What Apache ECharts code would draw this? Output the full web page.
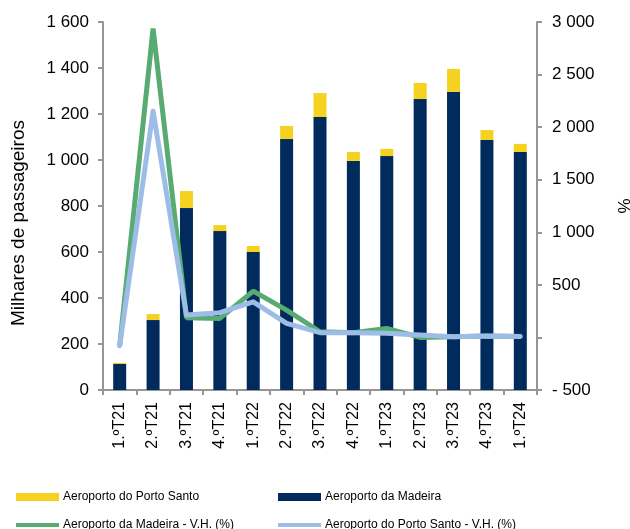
<!DOCTYPE html>
<html>
<head>
<meta charset="utf-8">
<script src="https://cdn.jsdelivr.net/npm/echarts@6/dist/echarts.min.js"></script>
<style>
  html, body { margin: 0; padding: 0; background: #fff; }
  #chart { width: 630px; height: 529px; }
</style>
</head>
<body>
<div id="chart"></div>
<script>
// dados
var categorias = ['1.ºT21', '2.ºT21', '3.ºT21', '4.ºT21', '1.ºT22', '2.ºT22', '3.ºT22',
    '4.ºT22', '1.ºT23', '2.ºT23', '3.ºT23', '4.ºT23', '1.ºT24'];
var madeira = [113, 304, 791, 691, 600, 1091, 1187, 996, 1017, 1265, 1296, 1087, 1035];
var portoSanto = [5, 26, 74, 26, 26, 57, 104, 39, 31, 70, 100, 43, 35];
var madeiraVH = [-79, 2937, 187, 181, 441, 260, 54, 45, 86, 0, 7, 13, 10];
var portoSantoVH = [-79, 2151, 213, 235, 339, 134, 45, 45, 39, 23, 7, 13, 10];

var cinza = '#969696';
var fonte = 'Liberation Sans, Arial, sans-serif';

function milhares(v) {
    return String(v).replace(/\B(?=(\d{3})+(?!\d))/g, ' ');
}

var myChart = echarts.init(document.getElementById('chart'));

// uma legenda por item, para controlar a posição
function legenda(nome, left, top, h) {
    return {
        data: [nome],
        left: left,
        top: top,
        itemWidth: 43,
        itemHeight: h,
        itemGap: 0,
        icon: 'rect',
        textStyle: { fontFamily: fonte, fontSize: 12, color: '#000', padding: [0, 0, 0, -1] }
    };
}

var option = {
    animation: false,
    textStyle: { fontFamily: fonte },
    grid: { left: 103, right: 93, top: 22, bottom: 139, containLabel: false, outerBoundsMode: 'none' },
    legend: [
        legenda('Aeroporto do Porto Santo', 11, 486, 8),
        legenda('Aeroporto da Madeira', 273, 486, 8),
        legenda('Aeroporto da Madeira - V.H. (%)', 11, 514, 4),
        legenda('Aeroporto do Porto Santo - V.H. (%)', 273, 514, 4)
    ],
    xAxis: {
        type: 'category',
        data: categorias,
        axisLine: { lineStyle: { color: cinza, width: 2 } },
        axisTick: { show: true, length: 5, lineStyle: { color: cinza, width: 2 } },
        axisLabel: { rotate: 90, fontSize: 16, color: '#000', margin: 12, fontFamily: fonte }
    },
    yAxis: [{
        type: 'value',
        min: 0,
        max: 1600,
        interval: 200,
        name: 'Milhares de passageiros',
        nameLocation: 'middle',
        nameGap: 75,
        nameRotate: 90,
        nameTextStyle: { fontSize: 19, color: '#000', fontFamily: fonte, padding: [0, 34, 0, 0] },
        splitLine: { show: false },
        axisLine: { show: true, lineStyle: { color: cinza, width: 2 } },
        axisTick: { show: true, length: 5, lineStyle: { color: cinza, width: 2 } },
        axisLabel: { fontSize: 17, color: '#000', margin: 14, fontFamily: fonte,
            formatter: function (v) { return milhares(v); } }
    }, {
        type: 'value',
        min: -500,
        max: 3000,
        interval: 500,
        name: '%',
        nameLocation: 'middle',
        nameGap: 80,
        nameRotate: 90,
        nameTextStyle: { fontSize: 17, color: '#000', fontFamily: fonte },
        splitLine: { show: false },
        axisLine: { show: true, lineStyle: { color: cinza, width: 2 } },
        axisTick: { show: true, length: 5, lineStyle: { color: cinza, width: 2 } },
        axisLabel: { fontSize: 17, color: '#000', margin: 15, fontFamily: fonte,
            formatter: function (v) {
                if (v === 0) return '';
                if (v < 0) return '- ' + milhares(-v);
                return milhares(v);
            } }
    }],
    series: [{
        name: 'Aeroporto da Madeira',
        type: 'bar',
        stack: 'total',
        barWidth: 13,
        data: madeira,
        itemStyle: { color: '#002B5C' }
    }, {
        name: 'Aeroporto do Porto Santo',
        type: 'bar',
        stack: 'total',
        barWidth: 13,
        data: portoSanto,
        itemStyle: { color: '#F5D220' }
    }, {
        name: 'Aeroporto da Madeira - V.H. (%)',
        type: 'line',
        yAxisIndex: 1,
        data: madeiraVH,
        symbol: 'none',
        lineStyle: { color: '#58AC72', width: 5 },
        itemStyle: { color: '#58AC72' }
    }, {
        name: 'Aeroporto do Porto Santo - V.H. (%)',
        type: 'line',
        yAxisIndex: 1,
        data: portoSantoVH,
        symbol: 'none',
        lineStyle: { color: '#9DBDE6', width: 5, cap: 'round', join: 'round' },
        itemStyle: { color: '#9DBDE6' }
    }]
};

myChart.setOption(option, true);
</script>
</body>
</html>
